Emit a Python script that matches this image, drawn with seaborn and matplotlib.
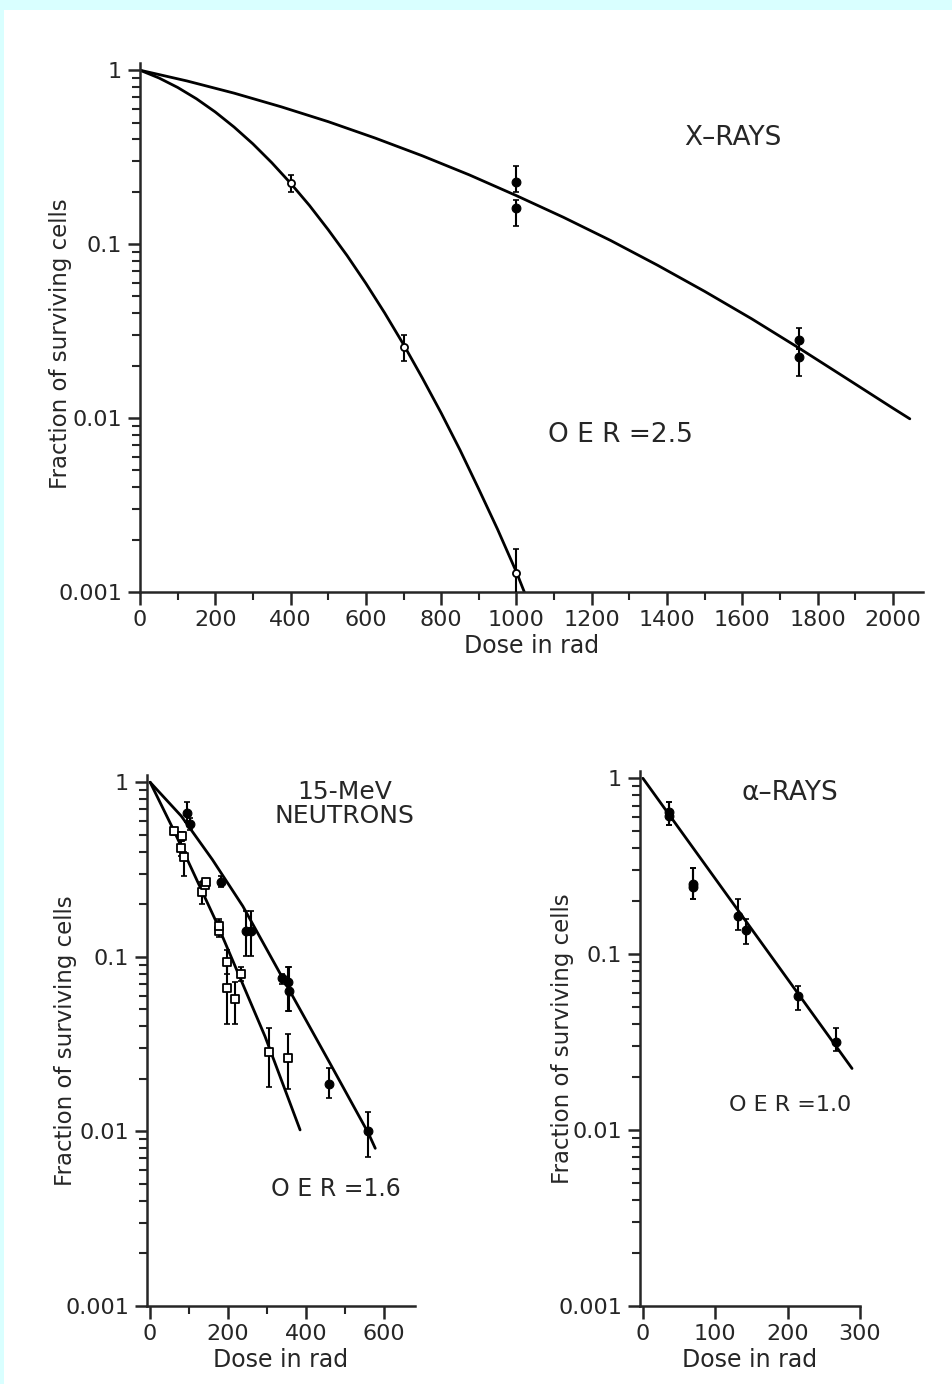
import numpy as np
import pandas as pd
import matplotlib
matplotlib.use("Agg")
import matplotlib.pyplot as plt
from matplotlib.patches import Rectangle
from matplotlib.ticker import LogLocator, NullFormatter, MultipleLocator
import seaborn as sns

# ---- X-rays (top panel) ----
xray_fit_dose_hyp = [0, 125, 250, 375, 500, 625, 750, 875, 1000, 1125, 1250, 1375,
                     1500, 1625, 1750, 1875, 2000, 2045]
xray_fit_surv_hyp = [1.0, 0.867, 0.738, 0.616, 0.506, 0.407, 0.322, 0.250, 0.19, 0.1426,
                     0.105, 0.0756, 0.0535, 0.0372, 0.0253, 0.0170, 0.0114, 0.0099]
xray_fit_dose_ox = [0, 50, 100, 150, 200, 250, 300, 350, 400, 450, 500, 550, 600, 650,
                    700, 750, 800, 850, 900, 950, 1000, 1025]
xray_fit_surv_ox = [1.0, 0.903, 0.796, 0.685, 0.575, 0.471, 0.377, 0.294, 0.224, 0.167,
                    0.121, 0.086, 0.0595, 0.0402, 0.0265, 0.0170, 0.0107, 0.00656,
                    0.0039, 0.00229, 0.0013, 0.00095]

xray_hyp_dose = [1000, 1000, 1750, 1750]
xray_hyp_surv = [0.227, 0.161, 0.028, 0.0224]
xray_hyp_lo = [0.20, 0.127, 0.025, 0.0174]
xray_hyp_hi = [0.28, 0.18, 0.033, 0.025]

xray_ox_dose = [400, 700, 1000]
xray_ox_surv = [0.224, 0.0256, 0.00129]
xray_ox_lo = [0.20, 0.0213, 0.0009]
xray_ox_hi = [0.25, 0.030, 0.00177]

# ---- 15-MeV neutrons (bottom left) ----
neut_fit_dose_hyp = [0, 80, 160, 238, 350, 462, 560, 578]
neut_fit_surv_hyp = [1.0, 0.64, 0.36, 0.195, 0.069, 0.0245, 0.0098, 0.0080]
neut_fit_dose_ox = [0, 59, 169, 295, 385]
neut_fit_surv_ox = [1.0, 0.54, 0.16, 0.035, 0.0102]

neut_hyp_dose = [95, 103, 182, 247, 258, 338, 354, 356, 459, 559]
neut_hyp_surv = [0.67, 0.58, 0.27, 0.141, 0.141, 0.076, 0.072, 0.064, 0.0188, 0.0100]
neut_hyp_lo = [0.59, 0.53, 0.25, 0.101, 0.101, 0.070, 0.049, 0.049, 0.0155, 0.0071]
neut_hyp_hi = [0.77, 0.62, 0.29, 0.183, 0.183, 0.080, 0.088, 0.088, 0.023, 0.013]

neut_ox_dose = [62, 82, 80, 87, 133, 141, 144, 177, 177, 197, 197, 218, 233, 305, 354]
neut_ox_surv = [0.525, 0.49, 0.42, 0.372, 0.235, 0.258, 0.27, 0.141, 0.15, 0.094,
                0.066, 0.057, 0.080, 0.0286, 0.0265]
neut_ox_lo = [0.50, 0.46, 0.38, 0.29, 0.20, 0.25, 0.26, 0.13, 0.14, 0.08,
              0.041, 0.041, 0.073, 0.018, 0.0176]
neut_ox_hi = [0.55, 0.52, 0.46, 0.40, 0.27, 0.27, 0.28, 0.165, 0.16, 0.11,
              0.094, 0.072, 0.088, 0.039, 0.036]

# ---- alpha rays (bottom right) ----
alpha_fit_dose = [0, 289]
alpha_fit_surv = [1.0, 0.0224]
alpha_dose = [36, 36, 69, 69, 132, 143, 214, 267]
alpha_surv = [0.64, 0.61, 0.25, 0.24, 0.164, 0.138, 0.058, 0.0318]
alpha_lo = [0.54, 0.54, 0.205, 0.205, 0.138, 0.114, 0.048, 0.028]
alpha_hi = [0.73, 0.73, 0.31, 0.31, 0.205, 0.158, 0.066, 0.038]

sns.set_style("ticks")
plt.rcParams['font.family'] = ['DejaVu Sans']
plt.rcParams['font.size'] = 16

W, H = 952, 1384
fig = plt.figure(figsize=(W / 100, H / 100), dpi=100, facecolor='#d9ffff')
fig.patches.append(Rectangle((4 / W, 0), 1, 1 - 10 / H, transform=fig.transFigure,
                             facecolor='white', edgecolor='none', zorder=-10))


def add_axes(l, t, r, b):
    return fig.add_axes([l / W, 1 - b / H, (r - l) / W, (b - t) / H])


def fit_line(ax, dose, surv):
    df = pd.DataFrame({"dose": dose, "surv": surv})
    sns.lineplot(data=df, x="dose", y="surv", ax=ax, color="black", lw=2.0,
                 sort=False, estimator=None, zorder=2)


def points(ax, dose, surv, lo, hi, marker, filled):
    surv_a = np.array(surv)
    yerr = [surv_a - np.array(lo), np.array(hi) - surv_a]
    ax.errorbar(dose, surv, yerr=yerr, fmt='none', ecolor='black', elinewidth=1.5,
                capsize=2.5, capthick=1.2, zorder=3)
    df = pd.DataFrame({"dose": dose, "surv": surv})
    if filled:
        sns.scatterplot(data=df, x="dose", y="surv", ax=ax, marker=marker, s=40,
                        color="black", edgecolor="black", linewidth=0.8, zorder=4)
    else:
        sns.scatterplot(data=df, x="dose", y="surv", ax=ax, marker=marker, s=26,
                        color="white", edgecolor="black", linewidth=1.3, zorder=4)


def style(ax, xlim, xmajor, xminor, ylab_x, ylab_y):
    ax.set_yscale('log')
    ax.set_ylim(0.001, 1.1)
    ax.set_xlim(*xlim)
    ax.set_yticks([0.001, 0.01, 0.1, 1])
    ax.set_yticklabels(['0.001', '0.01', '0.1', '1'])
    ax.yaxis.set_minor_locator(LogLocator(base=10, subs=np.arange(2, 10)))
    ax.yaxis.set_minor_formatter(NullFormatter())
    ax.xaxis.set_major_locator(MultipleLocator(xmajor))
    if xminor:
        ax.xaxis.set_minor_locator(MultipleLocator(xminor))
    ax.tick_params(which='major', direction='out', length=9, width=1.8, labelsize=16, pad=4)
    ax.tick_params(which='minor', direction='out', length=6, width=1.5)
    for s in ['top', 'right']:
        ax.spines[s].set_visible(False)
    for s in ['left', 'bottom']:
        ax.spines[s].set_linewidth(1.8)
    ax.set_xlabel('Dose in rad', fontsize=17, labelpad=3)
    ax.set_ylabel('Fraction of surviving cells', fontsize=16.5)
    ax.yaxis.set_label_coords(ylab_x, ylab_y)
    ax.set_facecolor('none')


# top panel
ax1 = add_axes(140, 63, 923, 592)
fit_line(ax1, xray_fit_dose_hyp, xray_fit_surv_hyp)
fit_line(ax1, xray_fit_dose_ox, xray_fit_surv_ox)
points(ax1, xray_hyp_dose, xray_hyp_surv, xray_hyp_lo, xray_hyp_hi, 'o', True)
points(ax1, xray_ox_dose, xray_ox_surv, xray_ox_lo, xray_ox_hi, 'o', False)
style(ax1, (0, 2080), 200, 100, -0.087, 0.47)
ax1.text(1575, 0.41, 'X\u2013RAYS', ha='center', va='center', fontsize=19)
ax1.text(1275, 0.008, 'O E R =2.5', ha='center', va='center', fontsize=19)

# bottom left panel
ax2 = add_axes(147, 775, 415, 1306)
fit_line(ax2, neut_fit_dose_hyp, neut_fit_surv_hyp)
fit_line(ax2, neut_fit_dose_ox, neut_fit_surv_ox)
points(ax2, neut_hyp_dose, neut_hyp_surv, neut_hyp_lo, neut_hyp_hi, 'o', True)
points(ax2, neut_ox_dose, neut_ox_surv, neut_ox_lo, neut_ox_hi, 's', False)
style(ax2, (-8, 680), 200, 100, -0.26, 0.5)
ax2.text(500, 0.75, '15-MeV\nNEUTRONS', ha='center', va='center', fontsize=18,
         linespacing=1.0)
ax2.text(477, 0.0047, 'O E R =1.6', ha='center', va='center', fontsize=17)

# bottom right panel
ax3 = add_axes(640, 771, 860, 1306)
fit_line(ax3, alpha_fit_dose, alpha_fit_surv)
points(ax3, alpha_dose, alpha_surv, alpha_lo, alpha_hi, 'o', True)
style(ax3, (-4, 300), 100, None, -0.30, 0.5)
ax3.text(203, 0.82, '\u03b1\u2013RAYS', ha='center', va='center', fontsize=19)
ax3.text(203, 0.0138, 'O E R =1.0', ha='center', va='center', fontsize=16)

fig.savefig('out.png', dpi=100, facecolor=fig.get_facecolor())
